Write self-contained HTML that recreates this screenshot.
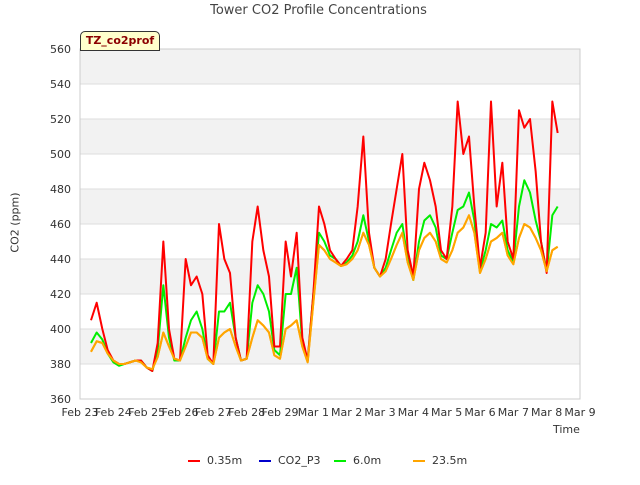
<!DOCTYPE html>
<html><head><meta charset="utf-8"><style>
body{margin:0;background:#fff;font-family:"Liberation Sans","DejaVu Sans",sans-serif}
svg text{font-family:"DejaVu Sans","Liberation Sans",sans-serif}
</style></head><body>
<svg id="c" width="640" height="480"></svg>
<script>
const times=[0.33,0.5,0.67,0.83,1,1.17,1.33,1.5,1.67,1.83,2,2.17,2.33,2.5,2.67,2.83,3,3.17,3.33,3.5,3.67,3.83,4,4.17,4.33,4.5,4.67,4.83,5,5.17,5.33,5.5,5.67,5.83,6,6.17,6.33,6.5,6.67,6.83,7,7.17,7.33,7.5,7.67,7.83,8,8.17,8.33,8.5,8.67,8.83,9,9.17,9.33,9.5,9.67,9.83,10,10.17,10.33,10.5,10.67,10.83,11,11.17,11.33,11.5,11.67,11.83,12,12.17,12.33,12.5,12.67,12.83,13,13.17,13.33,13.5,13.67,13.83,14,14.17,14.33];
const red=[405,415,400,388,382,380,380,381,382,382,378,376,392,450,400,383,382,440,425,430,420,385,380,460,440,432,395,382,383,450,470,445,430,390,390,450,430,455,395,382,420,470,460,445,440,436,440,445,470,510,455,435,430,440,460,480,500,445,430,480,495,485,470,445,440,470,530,500,510,470,435,455,530,470,495,450,440,525,515,520,490,450,432,530,512];
const co2p3=[];
const green=[392,398,394,386,381,379,380,381,382,382,378,376,388,425,395,382,382,395,405,410,400,383,380,410,410,415,395,382,383,415,425,420,410,388,385,420,420,435,392,382,420,455,450,442,440,436,438,442,450,465,450,435,430,435,445,455,460,440,428,450,462,465,458,442,440,455,468,470,478,462,433,445,460,458,462,445,438,470,485,478,462,450,433,465,470];
const orange=[387,393,392,386,382,380,380,381,382,381,378,377,384,398,390,383,382,390,398,398,395,383,380,395,398,400,390,382,383,395,405,402,398,385,383,400,402,405,390,381,415,448,445,440,438,436,437,440,445,455,448,435,430,433,440,448,455,438,428,445,452,455,450,440,438,445,455,458,465,455,432,440,450,452,455,442,437,452,460,458,452,445,433,445,447];
const yTicks=[360,380,400,420,440,460,480,500,520,540,560];
const xLabels=["Feb 23","Feb 24","Feb 25","Feb 26","Feb 27","Feb 28","Feb 29","Mar 1","Mar 2","Mar 3","Mar 4","Mar 5","Mar 6","Mar 7","Mar 8","Mar 9"];
const NS="http://www.w3.org/2000/svg",svg=document.getElementById('c');
const L=80,R=580,T=49,B=399;
const X=t=>L+(R-L)*t/15, Y=v=>B-(v-360)*(B-T)/200;
function el(tag,a,txt){const e=document.createElementNS(NS,tag);for(const k in a)e.setAttribute(k,a[k]);if(txt!=null)e.textContent=txt;svg.appendChild(e);return e;}
let bg=el('rect',{x:L,y:T,width:R-L,height:B-T,fill:'#fff',stroke:'#ccc'});


for(let i=0;i<yTicks.length-1;i++){ if(i%2===1){const b=el('rect',{x:L,y:Y(yTicks[i+1]),width:R-L,height:Y(yTicks[i])-Y(yTicks[i+1]),fill:'#f2f2f2'});

}}
yTicks.forEach(v=>{const g=el('line',{x1:L,x2:R,y1:Y(v),y2:Y(v),stroke:'#ddd'});


const t=el('text',{x:L-9,y:Y(v)+4,'text-anchor':'end','font-size':11,fill:'#333'},v);

});
xLabels.forEach((s,i)=>{const t=el('text',{x:X(i),y:B+17,'text-anchor':'middle','font-size':11,fill:'#333'},s);

});
el('rect',{x:L,y:T,width:R-L,height:B-T,fill:'none',stroke:'#ccc'});
function series(vals,color,name){if(!vals.length)return;const p=el('polyline',{points:vals.map((v,i)=>X(times[i])+','+Y(v)).join(' '),fill:'none',stroke:color,'stroke-width':2,'stroke-linejoin':'round'});

}
series(orange,'#ffa500','series-23-5m');
series(green,'#00ee00','series-6-0m');
series(co2p3,'#0000cc','series-co2-p3');
series(red,'#ff0000','series-0-35m');
series(orange.map(v=>v),'#ffa500','series-23-5m-top');
</script>
<div style="position:absolute;left:0;top:0;width:640px;height:480px;pointer-events:none">
<div style="position:absolute;top:3px;left:0;width:637px;text-align:center;font:13px 'DejaVu Sans',sans-serif;color:#444">Tower CO2 Profile Concentrations</div>
<div style="position:absolute;left:80px;top:31px;width:78px;height:18px;background:#ffffcc;border:1px solid #333;border-radius:5px 5px 0 0;font:bold 11px 'DejaVu Sans',sans-serif;color:#8b0000;line-height:18px;text-align:center">TZ_co2prof</div>
<div style="position:absolute;left:-20px;top:216px;width:70px;transform:rotate(-90deg);text-align:center;font:11px 'DejaVu Sans',sans-serif;color:#333">CO2 (ppm)</div>
<div style="position:absolute;left:553px;top:423px;font:11px 'DejaVu Sans',sans-serif;color:#333">Time</div>
<div style="position:absolute;top:454px;left:0;font:11px 'DejaVu Sans',sans-serif;color:#333">
<span style="position:absolute;left:188px;white-space:nowrap"><span style="display:inline-block;width:12px;height:2px;background:#f00;vertical-align:middle;margin-right:7px"></span>0.35m</span>
<span style="position:absolute;left:259px;white-space:nowrap"><span style="display:inline-block;width:12px;height:2px;background:#00c;vertical-align:middle;margin-right:7px"></span>CO2_P3</span>
<span style="position:absolute;left:334px;white-space:nowrap"><span style="display:inline-block;width:12px;height:2px;background:#0e0;vertical-align:middle;margin-right:7px"></span>6.0m</span>
<span style="position:absolute;left:413px;white-space:nowrap"><span style="display:inline-block;width:12px;height:2px;background:#ffa500;vertical-align:middle;margin-right:7px"></span>23.5m</span>
</div></div>
</body></html>
